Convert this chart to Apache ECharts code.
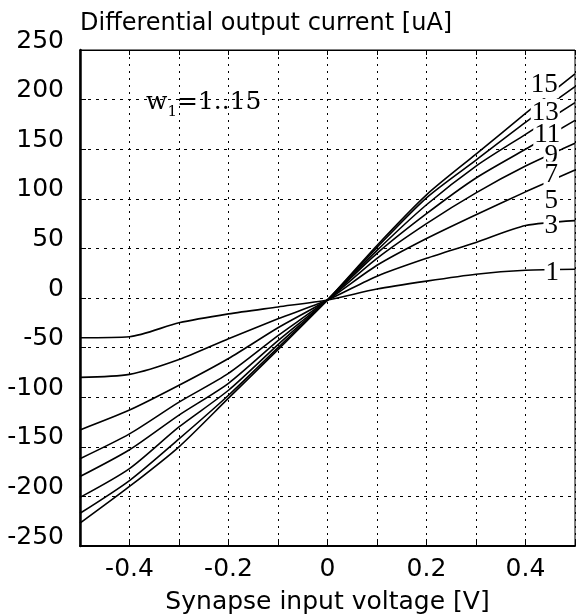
<!DOCTYPE html>
<html>
<head>
<meta charset="utf-8">
<script src="https://cdn.jsdelivr.net/npm/echarts@6/dist/echarts.min.js"></script>
<style>
html,body{margin:0;padding:0;background:#fff;}
#chart{width:578px;height:616px;}
</style>
</head>
<body>
<div id="chart"></div>
<script>
// Synapse input voltage [V]
const xValues = [-0.5, -0.4, -0.3, -0.2, -0.1, 0, 0.1, 0.2, 0.3, 0.4, 0.5];
// Differential output current [uA] for w1 = 1,3,...,15
const w1  = [-40, -39, -25, -16, -9, -2, 9, 17, 24, 28, 29];
const w3  = [-80, -77, -62, -41, -21, -2, 22, 40, 56, 73, 78];
const w5  = [-133, -113, -88, -61, -30, -2, 33, 60, 84, 107, 129];
const w7  = [-162, -137, -105, -76, -38, -2, 40, 75, 106, 133, 156];
const w9  = [-180, -153, -118, -86, -43, -2, 45, 85, 121, 150, 179];
const w11 = [-201, -172, -130, -93, -47, -2, 48, 94, 133, 165, 197];
const w13 = [-217, -184, -142, -98, -50, -2, 51, 101, 139, 177, 213];
const w15 = [-227, -190, -150, -101, -52, -2, 53, 104, 145, 186, 226];
const curveNames = ['1', '3', '5', '7', '9', '11', '13', '15'];
const curves = [w1, w3, w5, w7, w9, w11, w13, w15];

// curve labels (data coordinates)
const labelNames = ['15', '13', '11', '9', '7', '5', '3', '1'];
const labelX = [0.438, 0.440, 0.444, 0.452, 0.452, 0.452, 0.452, 0.454];
const labelY = [215, 187, 164, 143, 124, 98, 73, 25];

const xTickValues = [-0.4, -0.2, 0, 0.2, 0.4];
const xTickLabels = ['-0.4', '-0.2', '0', '0.2', '0.4'];
const yTickLabels = ['-250','-200','-150','-100','-50','0','50','100','150','200','250'];

const chart = echarts.init(document.getElementById('chart'), null, {renderer: 'canvas'});

const lineSeries = curves.map((vals, i) => ({
  type: 'line',
  name: 'w' + curveNames[i],
  data: xValues.map((x, j) => [x, vals[j]]),
  showSymbol: false,
  symbol: 'none',
  smooth: 0.25,
  lineStyle: {color: '#000', width: 1.6},
  z: 3,
  silent: true
}));

const labelSeries = {
  type: 'scatter',
  data: labelNames.map((n, i) => ({name: n, value: [labelX[i], labelY[i]]})),
  symbolSize: 0,
  itemStyle: {color: '#000', opacity: 1},
  z: 10,
  silent: true,
  label: {
    show: true,
    position: 'inside',
    formatter: p => p.name,
    fontFamily: 'Liberation Serif',
    fontSize: 27,
    color: '#000',
    opacity: 1,
    textBorderWidth: 0,
    textBorderColor: 'transparent',
    backgroundColor: '#fff',
    padding: [0, 1]
  }
};

const option = {
  animation: false,
  backgroundColor: '#fff',
  grid: {left: 80, right: 3, top: 50, bottom: 70, containLabel: false, outerBoundsMode: 'none',
         show: true, borderColor: '#000', borderWidth: 1, backgroundColor: 'transparent'},
  xAxis: [{
    type: 'value', min: -0.5, max: 0.5, interval: 0.1, position: 'bottom',
    axisLine: {show: true, onZero: false, lineStyle: {color: '#000', width: 2}},
    axisTick: {show: true, inside: true, length: 7, lineStyle: {color: '#000', width: 1}},
    splitLine: {show: true, lineStyle: {color: '#000', width: 1, type: [2, 5]}},
    axisLabel: {
      margin: 11, fontFamily: 'DejaVu Sans', fontSize: 25, color: '#000',
      formatter: v => {
        for (let i = 0; i < xTickValues.length; i++) {
          if (Math.abs(v - xTickValues[i]) < 1e-6) return xTickLabels[i];
        }
        return '';
      }
    },
    name: 'Synapse input voltage [V]', nameLocation: 'middle', nameGap: 44,
    nameTextStyle: {fontFamily: 'DejaVu Sans', fontSize: 25, color: '#000'}
  }, {
    type: 'value', min: -0.5, max: 0.5, interval: 0.1, position: 'top',
    axisLine: {show: true, onZero: false, lineStyle: {color: '#000', width: 1}},
    axisTick: {show: true, inside: true, length: 5, lineStyle: {color: '#000', width: 1}},
    splitLine: {show: false},
    axisLabel: {show: false}
  }],
  yAxis: [{
    type: 'value', min: -250, max: 250, interval: 50, position: 'left',
    axisLine: {show: true, onZero: false, lineStyle: {color: '#000', width: 2.5}},
    axisTick: {show: true, inside: true, length: 6, lineStyle: {color: '#000', width: 1}},
    splitLine: {show: true, lineStyle: {color: '#000', width: 1, type: [3, 5]}},
    axisLabel: {
      margin: 16, fontFamily: 'DejaVu Sans', fontSize: 25, color: '#000',
      verticalAlign: 'bottom', lineHeight: 18,
      formatter: (v) => {
        const idx = Math.round((v + 250) / 50);
        return yTickLabels[idx];
      }
    }
  }],
  graphic: [{
    type: 'text', left: 80, top: 12, z: 20,
    style: {text: 'Differential output current [uA]', font: '24px "DejaVu Sans"', fill: '#000'}
  }, {
    type: 'text', left: 146, top: 90, z: 20,
    style: {
      text: '{a|w}{b|1}{a|=1..15}',
      fill: '#000',
      rich: {
        a: {fontFamily: 'DejaVu Serif', fontSize: 25, lineHeight: 34, verticalAlign: 'middle', fill: '#000'},
        b: {fontFamily: 'DejaVu Serif', fontSize: 15, lineHeight: 17, verticalAlign: 'bottom', fill: '#000'}
      }
    }
  }],
  series: lineSeries.concat([labelSeries])
};

chart.setOption(option);
</script>
</body>
</html>
